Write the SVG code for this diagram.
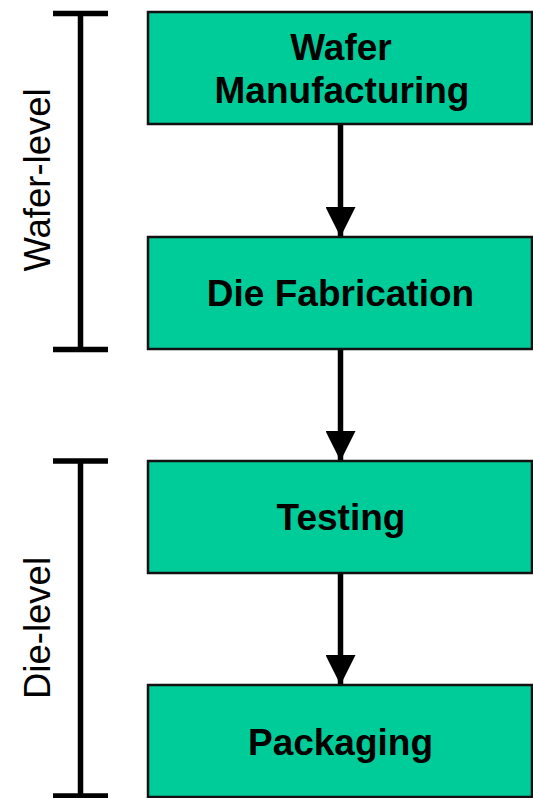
<svg xmlns="http://www.w3.org/2000/svg" width="533" height="798" viewBox="0 0 533 798">
<style>
.box{fill:#00CC99;stroke:#111;stroke-width:2.5}
.lbl{font-family:"Liberation Sans",Arial,sans-serif;font-weight:bold;font-size:37px;fill:#000;text-anchor:middle}
.side{font-family:"Liberation Sans",Arial,sans-serif;font-size:36.5px;fill:#000;text-anchor:middle}
.br{stroke:#000;stroke-width:5.5;fill:none}
.ln{stroke:#000;stroke-width:5.5}
</style>
<defs>
<marker id="ah" markerUnits="userSpaceOnUse" markerWidth="30" markerHeight="30" refX="30" refY="15" orient="auto" viewBox="0 0 30 30">
<path d="M0,0 L30,15 L0,30 Z" fill="#000"/>
</marker>
</defs>
<rect width="533" height="798" fill="#fff"/>
<g id="brackets">
<path class="br" d="M53,13.5 H108 M80.5,13.5 V349.5 M53,349.5 H108"/>
<path class="br" d="M53,461 H108 M80.5,461 V796 M53,796 H108"/>
<text class="side" transform="translate(50,180) rotate(-90)">Wafer-level</text>
<text class="side" transform="translate(50,628) rotate(-90)">Die-level</text>
</g>
<g id="connectors">
<line class="ln" x1="340.5" y1="124" x2="340.5" y2="237" marker-end="url(#ah)"/>
<line class="ln" x1="340.5" y1="349" x2="340.5" y2="461" marker-end="url(#ah)"/>
<line class="ln" x1="340.5" y1="573" x2="340.5" y2="685" marker-end="url(#ah)"/>
</g>
<g id="n1">
<rect class="box" x="148" y="12" width="384" height="112"/>
<text class="lbl" x="341" y="60">Wafer</text>
<text class="lbl" x="342" y="103">Manufacturing</text>
</g>
<g id="n2">
<rect class="box" x="148" y="237" width="384" height="112"/>
<text class="lbl" x="340.5" y="306">Die Fabrication</text>
</g>
<g id="n3">
<rect class="box" x="148" y="461" width="384" height="112"/>
<text class="lbl" x="341" y="530">Testing</text>
</g>
<g id="n4">
<rect class="box" x="148" y="685" width="384" height="112"/>
<text class="lbl" x="340.5" y="755">Packaging</text>
</g>
</svg>
